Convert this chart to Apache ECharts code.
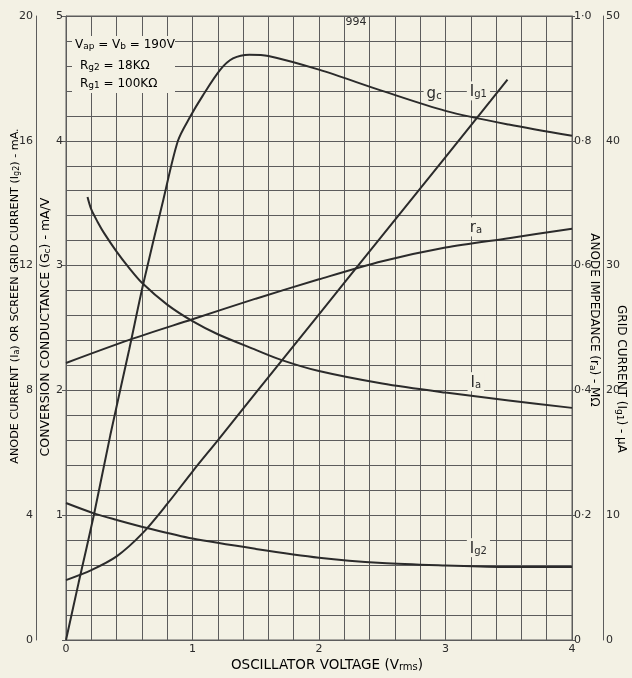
<!DOCTYPE html>
<html>
<head>
<meta charset="utf-8">
<script src="https://cdn.jsdelivr.net/npm/echarts@6/dist/echarts.min.js"></script>
<style>
  html, body { margin: 0; padding: 0; background: #f3f1e4; }
  #chart { width: 632px; height: 678px; }
</style>
</head>
<body>
<div id="chart"></div>
<script>
// Valve 994 frequency-changer characteristics against oscillator drive (Vrms)

// Conversion conductance gc, mA/V
const gcVolts  = [0, 0.1, 0.22, 0.35, 0.5, 0.61, 0.77, 0.885, 0.98, 1.08, 1.22, 1.32, 1.45, 1.6, 2.0, 2.5, 3.0, 3.5, 4.0];
const gcValues = [0, 0.46, 1.0, 1.64, 2.33, 2.85, 3.53, 4.0, 4.19, 4.36, 4.57, 4.66, 4.69, 4.68, 4.57, 4.40, 4.24, 4.13, 4.04];

// Grid current Ig1, µA
const ig1Volts  = [0, 0.2, 0.4, 0.6, 0.8, 1.0, 1.2, 1.5, 2.0, 2.5, 3.0, 3.49];
const ig1Values = [4.8, 5.6, 6.7, 8.5, 10.9, 13.5, 16.0, 19.8, 26.1, 32.4, 38.7, 44.9];

// Anode current Ia, mA
const iaVolts  = [0.17, 0.2, 0.25, 0.3, 0.4, 0.5, 0.6, 0.8, 1.0, 1.2, 1.5, 1.7, 2.0, 2.5, 3.0, 3.5, 4.0];
const iaValues = [14.2, 13.8, 13.4, 13.05, 12.45, 11.92, 11.45, 10.75, 10.22, 9.8, 9.3, 8.98, 8.62, 8.22, 7.93, 7.68, 7.44];

// Anode impedance ra, MΩ
const raVolts  = [0, 0.5, 1.0, 1.5, 2.0, 2.5, 3.0, 3.5, 4.0];
const raValues = [0.444, 0.481, 0.514, 0.547, 0.578, 0.607, 0.629, 0.644, 0.659];

// Screen grid current Ig2, mA
const ig2Volts  = [0, 0.22, 0.4, 0.64, 1.0, 1.5, 2.0, 2.5, 3.0, 3.5, 4.0];
const ig2Values = [4.39, 4.06, 3.85, 3.59, 3.25, 2.92, 2.64, 2.47, 2.39, 2.34, 2.34];

// Axis tick labels
const voltTicks = [0, 1, 2, 3, 4];
const gcTicks = [1, 2, 3, 4, 5];
const mATicks = [0, 4, 8, 12, 16, 20];
const raTicks = [0, 0.2, 0.4, 0.6, 0.8, 1.0];
const uATicks = [0, 10, 20, 30, 40, 50];

const INK = '#2b2b2b';
const RULE = '#5c5c5c';
const PAPER = '#f3f1e4';
const FONT = 'DejaVu Sans';

const zip = (xs, ys) => xs.map((x, i) => [x, ys[i]]);
const dotted = v => (raTicks.includes(v) ? (v === 0 ? '0' : v.toFixed(1).replace('.', '\u00b7')) : '');

function richSet(size) {
  return {
    m: { fontFamily: FONT, fontSize: size, color: INK, lineHeight: size + 2, verticalAlign: 'bottom' },
    s: { fontFamily: FONT, fontSize: Math.round(size * 0.75), color: INK, lineHeight: Math.round(size * 0.75), verticalAlign: 'bottom' }
  };
}

function curveLabel(coord, text) {
  return {
    coord: coord,
    symbol: 'rect',
    symbolSize: 1,
    itemStyle: { color: 'rgba(0,0,0,0)' },
    label: {
      show: true,
      position: 'inside',
      formatter: text,
      backgroundColor: PAPER,
      padding: [1, 3],
      rich: {
        m: { fontFamily: FONT, fontSize: 15, color: INK, lineHeight: 17, verticalAlign: 'bottom' },
        s: { fontFamily: FONT, fontSize: 10, color: INK, lineHeight: 10, verticalAlign: 'bottom' }
      }
    }
  };
}

function curve(name, xs, ys, axis, labelAt, labelText) {
  return {
    name: name,
    type: 'line',
    yAxisIndex: axis,
    data: zip(xs, ys),
    showSymbol: false,
    symbol: 'none',
    smooth: 0.3,
    lineStyle: { color: INK, width: 2 },
    silent: true,
    markPoint: { silent: true, data: [curveLabel(labelAt, labelText)] }
  };
}

function axisTitle(x, y, rotation, text, size) {
  return {
    type: 'text', x: x, y: y, rotation: rotation, z: 11,
    style: { text: text, rich: richSet(size), textAlign: 'center', textVerticalAlign: 'middle' }
  };
}

const chart = echarts.init(document.getElementById('chart'));

const tickLabel = { fontFamily: FONT, fontSize: 11, color: INK };

chart.setOption({
  backgroundColor: PAPER,
  animation: false,
  grid: { left: 66, right: 60, top: 16, bottom: 38, show: true, borderColor: RULE, borderWidth: 1, backgroundColor: 'transparent' },
  xAxis: {
    type: 'value', min: 0, max: 4, interval: 1,
    axisLine: { show: true, lineStyle: { color: RULE, width: 1 } },
    axisTick: { show: false },
    minorTick: { show: false, splitNumber: 5 },
    splitLine: { show: true, lineStyle: { color: RULE, width: 1 } },
    minorSplitLine: { show: true, lineStyle: { color: RULE, width: 1 } },
    axisLabel: Object.assign({ margin: 4, formatter: v => (voltTicks.includes(v) ? String(v) : '') }, tickLabel)
  },
  yAxis: [
    {
      type: 'value', position: 'left', min: 0, max: 5, interval: 1,
      axisLine: { show: true, lineStyle: { color: RULE } },
      axisTick: { show: true, length: 4, lineStyle: { color: RULE } },
      minorTick: { show: false, splitNumber: 5 },
      splitLine: { show: true, lineStyle: { color: RULE, width: 1 } },
      minorSplitLine: { show: true, lineStyle: { color: RULE, width: 1 } },
      axisLabel: Object.assign({ margin: 3, formatter: v => (gcTicks.includes(v) ? String(v) : '') }, tickLabel)
    },
    {
      type: 'value', position: 'left', offset: 30, min: 0, max: 20, interval: 4,
      axisLine: { show: true, lineStyle: { color: RULE } },
      axisTick: { show: false },
      splitLine: { show: false },
      axisLabel: Object.assign({ margin: 3, formatter: v => (mATicks.includes(v) ? String(v) : '') }, tickLabel)
    },
    {
      type: 'value', position: 'right', offset: 0, min: 0, max: 1, interval: 0.2,
      axisLine: { show: true, lineStyle: { color: RULE } },
      axisTick: { show: true, length: 3, lineStyle: { color: RULE } },
      splitLine: { show: false },
      axisLabel: Object.assign({ margin: 2, formatter: dotted }, tickLabel)
    },
    {
      type: 'value', position: 'right', offset: 31, min: 0, max: 50, interval: 10,
      axisLine: { show: true, lineStyle: { color: RULE } },
      axisTick: { show: false },
      splitLine: { show: false },
      axisLabel: Object.assign({ margin: 3, formatter: v => (uATicks.includes(v) ? String(v) : '') }, tickLabel)
    }
  ],
  series: [
    curve('gc', gcVolts, gcValues, 0, [2.91, 4.38], '{m|g}{s|c}'),
    curve('Ig1', ig1Volts, ig1Values, 3, [3.26, 44.0], '{m|I}{s|g1}'),
    curve('Ia', iaVolts, iaValues, 1, [3.24, 8.28], '{m|I}{s|a}'),
    curve('ra', raVolts, raValues, 2, [3.24, 0.662], '{m|r}{s|a}'),
    curve('Ig2', ig2Volts, ig2Values, 1, [3.26, 2.96], '{m|I}{s|g2}')
  ],
  graphic: [
    // operating conditions panel
    { type: 'rect', left: 72, top: 36, shape: { width: 103, height: 57 }, style: { fill: PAPER }, z: 10 },
    { type: 'text', x: 75, y: 44, z: 11, style: { text: '{m|V}{s|ap}{m| = V}{s|b}{m| = 190V}', rich: richSet(12), textVerticalAlign: 'middle' } },
    { type: 'text', x: 80, y: 65, z: 11, style: { text: '{m|R}{s|g2}{m| = 18K\u03a9}', rich: richSet(12), textVerticalAlign: 'middle' } },
    { type: 'text', x: 80, y: 83, z: 11, style: { text: '{m|R}{s|g1}{m| = 100K\u03a9}', rich: richSet(12), textVerticalAlign: 'middle' } },
    { type: 'text', x: 356, y: 22, z: 11, style: { text: '994', fontFamily: FONT, fontSize: 11, fill: INK, textAlign: 'center', textVerticalAlign: 'middle' } },
    // axis titles
    axisTitle(14, 296, Math.PI / 2, '{m|ANODE CURRENT (I}{s|a}{m|) OR SCREEN GRID CURRENT (I}{s|g2}{m|) - mA.}', 11.2),
    axisTitle(45, 327, Math.PI / 2, '{m|CONVERSION CONDUCTANCE (G}{s|c}{m|) - mA/V}', 12.5),
    axisTitle(595, 320, -Math.PI / 2, '{m|ANODE IMPEDANCE (r}{s|a}{m|) - M\u03a9}', 12),
    axisTitle(622, 379, -Math.PI / 2, '{m|GRID CURRENT (I}{s|g1}{m|) - \u00b5A}', 12),
    axisTitle(327, 665, 0, '{m|OSCILLATOR VOLTAGE (V}{s|rms}{m|)}', 13.5)
  ]
});
</script>
</body>
</html>
